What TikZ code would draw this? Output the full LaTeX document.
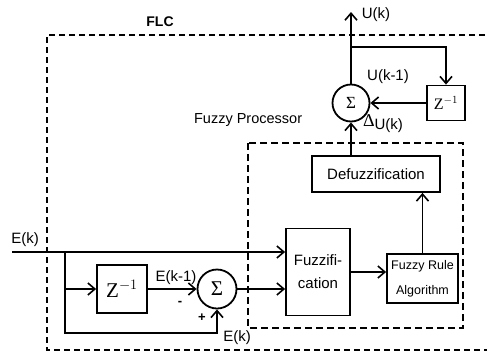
\documentclass[tikz,border=0pt]{standalone}
\usepackage{fontspec}
\setmainfont{Liberation Sans}
\newfontfamily\serif{Liberation Serif}
\usetikzlibrary{arrows.meta,positioning,calc}

\begin{document}
\begin{tikzpicture}[
  x=1pt, y=-1pt, >={Straight Barb[length=7pt,width=12pt]},
  line width=1.6pt, every node/.style={font=\fontsize{15}{17}\selectfont},
  blk/.style={draw, line width=1.8pt, inner sep=0pt, align=center},
  sumnode/.style={draw, circle, line width=1.8pt, inner sep=0pt, minimum size=37pt},
  outerbox/.style={line width=2pt, dash pattern=on 6pt off 4pt},
  innerbox/.style={line width=1.4pt, dash pattern=on 7pt off 4pt}
]
  \clip (0,0) rectangle (487,354);
  % FLC boundary
  \draw[outerbox] (495,35) -- (47,35) -- (47,350) -- (495,350);
  \node[font=\fontsize{14}{14}\selectfont\bfseries] (flc) at (160,22) {FLC};
  % fuzzy processor
  \draw[innerbox] (248,143) rectangle (463,328);
  \node[anchor=west, font=\fontsize{14.5}{15}\selectfont] (fp) at (190,120) {Fuzzy Processor};
  \node[blk, minimum width=128pt, minimum height=36pt] (defuzz) at (376,174) {Defuzzification};
  \node[blk, minimum width=64pt, minimum height=87pt, font=\fontsize{15}{23}\selectfont]
    (fuzzif) at (318,272) {Fuzzifi-\\cation};
  \node[blk, minimum width=71pt, minimum height=49pt, font=\fontsize{12.5}{25}\selectfont]
    (rule) at (422.5,278.5) {Fuzzy Rule\\Algorithm};
  \draw[->] (fuzzif.east) -- (fuzzif.east -| rule.west);
  \draw[->] (rule.north) -- (rule.north |- defuzz.south);
  % incremental output
  \node[sumnode, font=\fontsize{17}{17}\selectfont] (sumtop) at (351,103) {\serif Σ};
  \node[blk, minimum width=38pt, minimum height=35pt, font=\fontsize{16}{16}\selectfont]
    (ztop) at (446,103) {\serif Z$^{-1}$};
  \coordinate (uout) at (351,12);
  \coordinate (fb) at (351,47);
  \draw[->] (sumtop) -- (uout);
  \draw[->] (fb) -| (ztop);
  \draw[->] (ztop) -- (sumtop);
  \draw[->] (defuzz.north -| sumtop.south) -- (sumtop);
  \node (uk) at (376,15) {U(k)};
  \node (ukm) at (388,77) {U(k-1)};
  \node (du) at (383,124) {{\serif\fontsize{18}{18}\selectfont Δ}\raisebox{-3pt}{U(k)}};
  % error and change of error
  \coordinate (ein) at (12,252);
  \coordinate (br) at (65,252);
  \coordinate (bot) at (65,333);
  \node (ek) at (25,240) {E(k)};
  \node[blk, minimum width=50pt, minimum height=48pt, font=\fontsize{21}{21}\selectfont]
    (zlow) at (122,289) {\serif Z$^{-1}$};
  \node[sumnode, minimum size=39pt, font=\fontsize{21}{21}\selectfont] (sumlow) at (217,289) {\serif Σ};
  \draw[->] (ein) -- (ein -| fuzzif.west);
  \draw[->] (br) -- (bot) -| (sumlow);
  \draw[->] (br |- zlow) -- (zlow);
  \draw[->] (zlow) -- (sumlow);
  \draw[->] (sumlow) -- (sumlow -| fuzzif.west);
  \node (ekm) at (176,278) {E(k-1)};
  \node[font=\fontsize{13}{13}\selectfont\bfseries] (minus) at (180,303) {-};
  \node[font=\fontsize{13}{13}\selectfont\bfseries] (plus) at (202,318) {+};
  \node (ekb) at (237,338) {E(k)};
\end{tikzpicture}
\end{document}
